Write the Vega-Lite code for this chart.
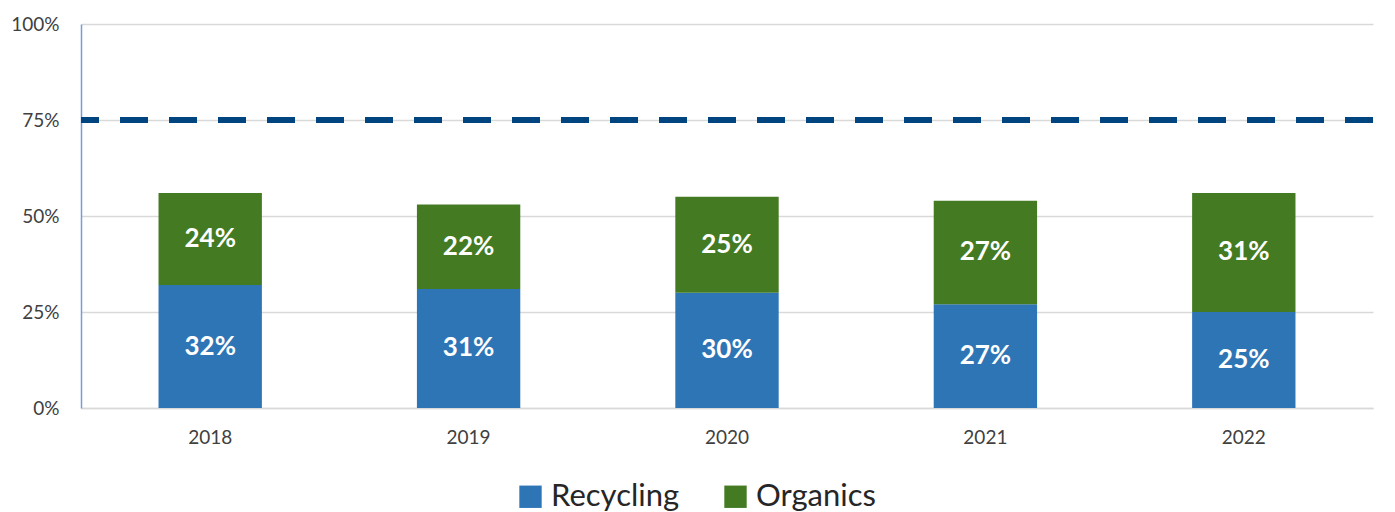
{
  "$schema": "https://vega.github.io/schema/vega-lite/v6.json",
  "width": 1292,
  "height": 384,
  "autosize": {"type": "none"},
  "padding": {"left": 81, "top": 24, "right": 22, "bottom": 104},
  "config": {
    "font": "Lato",
    "view": {"stroke": null},
    "axis": {"labelFont": "Lato", "labelColor": "#404040", "labelFontSize": 19, "ticks": false, "title": null}
  },
  "layer": [
    {
      "data": {
        "values": [
          {"year": "2018", "type": "Recycling", "ord": 1, "value": 0.32},
          {"year": "2018", "type": "Organics", "ord": 2, "value": 0.24},
          {"year": "2019", "type": "Recycling", "ord": 1, "value": 0.31},
          {"year": "2019", "type": "Organics", "ord": 2, "value": 0.22},
          {"year": "2020", "type": "Recycling", "ord": 1, "value": 0.30},
          {"year": "2020", "type": "Organics", "ord": 2, "value": 0.25},
          {"year": "2021", "type": "Recycling", "ord": 1, "value": 0.27},
          {"year": "2021", "type": "Organics", "ord": 2, "value": 0.27},
          {"year": "2022", "type": "Recycling", "ord": 1, "value": 0.25},
          {"year": "2022", "type": "Organics", "ord": 2, "value": 0.31}
        ]
      },
      "transform": [
        {"stack": "value", "groupby": ["year"], "sort": [{"field": "ord"}], "as": ["y0", "y1"]},
        {"calculate": "(datum.y0 + datum.y1) / 2", "as": "mid"}
      ],
      "layer": [
        {
          "mark": {"type": "bar"},
          "encoding": {
            "x": {
              "field": "year", "type": "nominal",
              "scale": {"paddingInner": 0.6, "paddingOuter": 0.3},
              "axis": {"labelAngle": 0, "domainColor": "#D9D9D9", "domainWidth": 1.5, "labelPadding": 20, "grid": false}
            },
            "y": {
              "field": "y1", "type": "quantitative",
              "scale": {"domain": [0, 1]},
              "axis": {"format": ".0%", "values": [0, 0.25, 0.5, 0.75, 1], "gridColor": "#D9D9D9", "gridWidth": 1.5, "domainColor": "#7A9BDB", "domainWidth": 1.5, "labelPadding": 22, "labelColor": "#404040"}
            },
            "y2": {"field": "y0"},
            "color": {
              "field": "type", "type": "nominal",
              "scale": {"domain": ["Recycling", "Organics"], "range": ["#2E75B6", "#437A22"]},
              "legend": {
                "title": null, "orient": "none", "direction": "horizontal",
                "legendX": 434, "legendY": 457,
                "symbolType": "square", "symbolSize": 500, "symbolStrokeWidth": 0, "symbolOpacity": 1,
                "labelFont": "Lato", "labelFontSize": 31, "labelColor": "#262626",
                "labelOffset": 5, "columnPadding": 40, "labelLimit": 300
              }
            }
          }
        },
        {
          "mark": {"type": "text", "color": "white", "fontWeight": "bold", "fontSize": 26, "baseline": "middle", "align": "center"},
          "encoding": {
            "x": {"field": "year", "type": "nominal"},
            "y": {"field": "mid", "type": "quantitative"},
            "text": {"field": "value", "type": "quantitative", "format": ".0%"}
          }
        }
      ]
    },
    {
      "data": {"values": [{"target": 0.75}]},
      "mark": {"type": "rule", "color": "#00457F", "strokeWidth": 6, "strokeDash": [28, 21]},
      "encoding": {"y": {"field": "target", "type": "quantitative"}}
    }
  ]
}
